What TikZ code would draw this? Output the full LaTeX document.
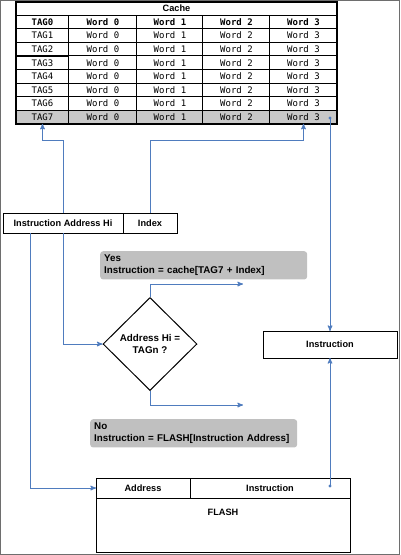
\documentclass[tikz,border=0pt]{standalone}
\usepackage{fontspec}
\setmainfont{Liberation Sans}
\setmonofont{DejaVu Sans Mono}
\usetikzlibrary{matrix,positioning,arrows,shapes.geometric}

\definecolor{linkblue}{RGB}{79,124,190}
\definecolor{notegray}{RGB}{192,192,192}
\definecolor{rowgray}{RGB}{200,200,200}
\definecolor{framegray}{RGB}{110,110,110}

\begin{document}
\begin{tikzpicture}[x=1pt,y=-1pt,>=stealth',
  link/.style={->,draw=linkblue,line width=1pt},
  box/.style={draw,line width=1pt,inner sep=0pt,outer sep=0pt,font=\bfseries\fontsize{9.2}{11}\selectfont},
  cell/.style={draw,line width=1pt,inner sep=0pt,outer sep=0pt,minimum height=13.5pt,font=\ttfamily\fontsize{9}{10}\selectfont},
  note/.style={fill=notegray,rounded corners=3pt,anchor=north west,align=left,inner sep=4pt,font=\bfseries\fontsize{9.8}{11.5}\selectfont}]

\useasboundingbox (0,0) rectangle (400,555);
\draw[framegray,line width=1pt] (0.5,0.5) rectangle (399.5,554.5);

% cache table
\node (cachetitle) [cell,minimum width=321pt,minimum height=13pt,anchor=north west,font=\bfseries\fontsize{9.2}{11}\selectfont] at (16,2) {Cache};
\matrix (cache) [matrix of nodes,inner sep=0pt,below=-0.5pt of cachetitle,
  column sep=-1pt,row sep=-1pt,
  nodes={cell},
  column 1/.style={nodes={minimum width=53pt}},
  column 2/.style={nodes={minimum width=68pt}},
  column 3/.style={nodes={minimum width=66pt}},
  column 4/.style={nodes={minimum width=67pt}},
  column 5/.style={nodes={minimum width=67pt}},
  row 1/.style={nodes={font=\ttfamily\bfseries\fontsize{9}{10}\selectfont}},
  row 8/.style={nodes={fill=rowgray}}]
{
TAG0 & Word 0 & Word 1 & Word 2 & Word 3 \\
TAG1 & Word 0 & Word 1 & Word 2 & Word 3 \\
TAG2 & Word 0 & Word 1 & Word 2 & Word 3 \\
TAG3 & Word 0 & Word 1 & Word 2 & Word 3 \\
TAG4 & Word 0 & Word 1 & Word 2 & Word 3 \\
TAG5 & Word 0 & Word 1 & Word 2 & Word 3 \\
TAG6 & Word 0 & Word 1 & Word 2 & Word 3 \\
TAG7 & Word 0 & Word 1 & Word 2 & Word 3 \\
};
\draw[line width=1.6pt] (cachetitle.north west) rectangle (cache-8-5.south east);

% address register
\node (addrhi) [box,minimum width=120pt,minimum height=20pt,anchor=north west] at (3,213) {Instruction Address Hi};
\node (index) [box,minimum width=54pt,minimum height=20pt,right=0pt of addrhi] {Index};

% compare
\node (test) [diamond,draw,line width=1pt,minimum width=94pt,minimum height=93pt,inner sep=0pt,align=center,font=\bfseries\fontsize{9.8}{12}\selectfont] at (150,344) {Address Hi =\\TAGn ?};
\node (yes) [note,text width=199pt,minimum height=26pt] at (100,251) {Yes\\Instruction = cache[TAG7 + Index]};
\node (no) [note,text width=199pt,minimum height=25pt] at (90,419) {No\\Instruction = FLASH[Instruction Address]};

\node (instr) [box,minimum width=134pt,minimum height=27pt] at (330,344.5) {Instruction};

% flash
\node (flashaddr) [box,minimum width=94pt,minimum height=20pt,anchor=north west] at (96,478) {Address};
\node (flashinstr) [box,minimum width=160pt,minimum height=20pt,right=0pt of flashaddr] {Instruction};
\node (flash) [box,minimum width=254pt,minimum height=54pt,below=0pt of flashaddr.south west,anchor=north west] {};
\node (flashlbl) [below=8pt of flash.north,font=\bfseries\fontsize{9.2}{11}\selectfont] {FLASH};

\coordinate (yesEnd) at (243,284);
\coordinate (noEnd) at (243,405);
\coordinate (hiTap) at (30,233);
\coordinate (cacheTap) at (330,118);
\coordinate (flashTap) at (330,486);

\draw[link] (addrhi.north) -- ++(0,-73) -| (cache-8-1.south);
\draw[link] (index.north) -- ++(0,-73) -| (cache-8-5.south);
\draw[link] (addrhi.south) |- (test.west);
\draw[link] (hiTap) |- (flashaddr.west);
\draw[link] (test.north) |- (yesEnd);
\draw[link] (test.south) |- (noEnd);
\fill[linkblue] (cacheTap) circle (1.6);
\draw[link] (cacheTap) -- (instr.north);
\fill[linkblue] (flashTap) circle (1.6);
\draw[link] (flashTap) -- (instr.south);

\end{tikzpicture}
\end{document}
